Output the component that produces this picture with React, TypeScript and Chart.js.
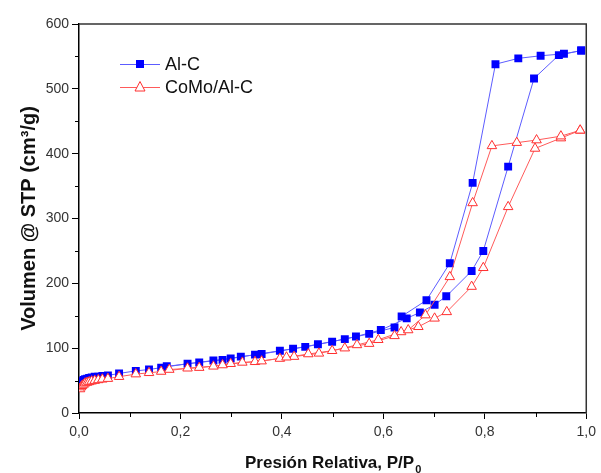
import React, { useEffect, useRef } from "react";
import { Chart, registerables } from "chart.js";

Chart.register(...registerables);

// Al-C (adsorption then desorption)
const alcAdsP = [0.002, 0.004, 0.006, 0.009, 0.012, 0.016, 0.020, 0.025, 0.031, 0.038, 0.046, 0.057, 0.079, 0.112, 0.138, 0.162, 0.214, 0.265, 0.299, 0.347, 0.396, 0.446, 0.499, 0.546, 0.595, 0.646, 0.672, 0.701, 0.724, 0.774, 0.797, 0.846, 0.897, 0.946, 0.990];
const alcAdsV = [44, 47, 49, 51, 52, 53, 54, 55, 56, 56, 57, 58, 61, 65, 67, 70, 76, 81, 84, 90, 96, 102, 110, 118, 128, 146, 155, 167, 180, 219, 250, 380, 516, 552, 559];
const alcDesP = [0.990, 0.956, 0.910, 0.866, 0.821, 0.776, 0.731, 0.685, 0.636, 0.622, 0.572, 0.524, 0.471, 0.422, 0.360, 0.319, 0.283, 0.237, 0.173];
const alcDesV = [559, 554, 551, 547, 538, 355, 231, 174, 149, 132, 122, 114, 106, 99, 91, 87, 82, 78, 72];

// CoMo/Al-C (adsorption then desorption)
const comoAdsP = [0.002, 0.004, 0.006, 0.009, 0.012, 0.016, 0.020, 0.025, 0.031, 0.038, 0.046, 0.057, 0.079, 0.112, 0.138, 0.162, 0.214, 0.265, 0.299, 0.347, 0.396, 0.452, 0.499, 0.548, 0.590, 0.635, 0.669, 0.701, 0.725, 0.774, 0.797, 0.846, 0.899, 0.950, 0.988];
const comoAdsV = [37, 40, 42, 44, 46, 47, 48, 49, 50, 51, 52, 53, 56, 60, 62, 64, 69, 72, 76, 79, 84, 91, 96, 105, 113, 125, 133, 146, 156, 195, 224, 318, 408, 424, 436];
const comoDesP = [0.988, 0.950, 0.902, 0.863, 0.814, 0.776, 0.731, 0.683, 0.649, 0.622, 0.572, 0.524, 0.473, 0.424, 0.409, 0.360, 0.322, 0.283, 0.237, 0.178];
const comoDesV = [436, 427, 421, 417, 412, 324, 210, 151, 128, 119, 107, 100, 92, 87, 86, 80, 78, 74, 70, 67];

const seriesNames = ["Al-C", "CoMo/Al-C"];
const xMinorTicks = [0.1, 0.3, 0.5, 0.7, 0.9];
const yMinorTicks = [50, 150, 250, 350, 450, 550];

const FONT = "Arial, 'Liberation Sans', sans-serif";
const BLUE_LINE = "#5c5cff";
const BLUE = "#0000ff";
const RED_LINE = "#ff5a5a";
const RED = "#ff3030";

function toPoints(ps: number[], vs: number[]) {
  return ps.map((p, i) => ({ x: p, y: vs[i] }));
}

const decorPlugin = {
  id: "decor",
  afterDraw(chart: any) {
    const { ctx, chartArea: a, scales } = chart;
    const xs = scales.x;
    const ys = scales.y;
    ctx.save();
    // frame top & right
    ctx.strokeStyle = "#333";
    ctx.lineWidth = 1.5;
    ctx.beginPath();
    ctx.moveTo(a.left, a.top);
    ctx.lineTo(a.right, a.top);
    ctx.lineTo(a.right, a.bottom);
    ctx.stroke();
    // minor ticks
    ctx.strokeStyle = "#000";
    ctx.lineWidth = 1;
    ctx.beginPath();
    xMinorTicks.forEach((v) => {
      const px = Math.round(xs.getPixelForValue(v)) + 0.5;
      ctx.moveTo(px, a.bottom);
      ctx.lineTo(px, a.bottom + 4);
    });
    yMinorTicks.forEach((v) => {
      const py = Math.round(ys.getPixelForValue(v)) + 0.5;
      ctx.moveTo(a.left - 4, py);
      ctx.lineTo(a.left, py);
    });
    ctx.stroke();

    // legend
    const items = [
      { name: seriesNames[0], line: BLUE_LINE, y: 64, kind: "rect" },
      { name: seriesNames[1], line: RED_LINE, y: 87, kind: "tri" },
    ];
    items.forEach((it) => {
      ctx.strokeStyle = it.line;
      ctx.lineWidth = 1;
      ctx.beginPath();
      ctx.moveTo(120, it.y + 0.5);
      ctx.lineTo(160, it.y + 0.5);
      ctx.stroke();
      if (it.kind === "rect") {
        ctx.fillStyle = BLUE;
        ctx.fillRect(136, it.y - 4, 8, 8);
      } else {
        ctx.fillStyle = "#fff";
        ctx.strokeStyle = RED;
        ctx.beginPath();
        ctx.moveTo(140, it.y - 5.5);
        ctx.lineTo(145, it.y + 4);
        ctx.lineTo(135, it.y + 4);
        ctx.closePath();
        ctx.fill();
        ctx.stroke();
      }
      ctx.fillStyle = "#111";
      ctx.font = `18px ${FONT}`;
      ctx.textAlign = "left";
      ctx.textBaseline = "middle";
      ctx.fillText(it.name, 165, it.y + 1);
    });

    // x title with subscript
    ctx.fillStyle = "#111";
    ctx.textBaseline = "alphabetic";
    ctx.textAlign = "left";
    const main = "Presión Relativa, P/P";
    ctx.font = `bold 17px ${FONT}`;
    const w1 = ctx.measureText(main).width;
    ctx.font = `bold 11px ${FONT}`;
    const w2 = ctx.measureText("0").width;
    const cx = (a.left + a.right) / 2;
    const sx = cx - (w1 + w2) / 2;
    ctx.font = `bold 17px ${FONT}`;
    ctx.fillText(main, sx, 468);
    ctx.font = `bold 11px ${FONT}`;
    ctx.fillText("0", sx + w1 + 1, 473);

    // y title
    ctx.save();
    ctx.translate(29, (a.top + a.bottom) / 2);
    ctx.rotate(-Math.PI / 2);
    ctx.textAlign = "center";
    ctx.textBaseline = "middle";
    ctx.font = `bold 20px ${FONT}`;
    ctx.fillText("Volumen @ STP (cm³/g)", 0, 0);
    ctx.restore();

    ctx.restore();
  },
};

export default function App() {
  const ref = useRef<HTMLCanvasElement | null>(null);
  useEffect(() => {
    if (!ref.current) return;
    const chart = new Chart(ref.current, {
      type: "scatter",
      data: {
        datasets: [
          {
            label: seriesNames[0],
            data: [...toPoints(alcAdsP, alcAdsV), ...toPoints(alcDesP, alcDesV)],
            showLine: true,
            borderColor: BLUE_LINE,
            borderWidth: 1,
            pointStyle: "rect",
            pointRadius: 5.6,
            pointBackgroundColor: BLUE,
            pointBorderColor: BLUE,
            pointBorderWidth: 0,
            order: 1,
          },
          {
            label: seriesNames[1],
            data: [...toPoints(comoAdsP, comoAdsV), ...toPoints(comoDesP, comoDesV)],
            showLine: true,
            borderColor: RED_LINE,
            borderWidth: 1,
            pointStyle: "triangle",
            pointRadius: 5.5,
            pointBackgroundColor: "#ffffff",
            pointBorderColor: RED,
            pointBorderWidth: 1,
            order: 0,
          },
        ],
      },
      options: {
        animation: false,
        responsive: false,
        layout: { padding: { top: 24, right: 11, left: 0, bottom: 0 } },
        plugins: { legend: { display: false }, tooltip: { enabled: false } },
        scales: {
          x: {
            type: "linear",
            min: 0,
            max: 1,
            grid: { display: true, drawOnChartArea: false, drawTicks: true, tickLength: 6, color: "#000" },
            border: { display: true, color: "#000", width: 1.5 },
            ticks: {
              stepSize: 0.2,
              padding: 5,
              color: "#333",
              font: { family: FONT, size: 14 },
              maxRotation: 0,
              callback: (v: any) => Number(v).toFixed(1).replace(".", ","),
            },
            afterFit: (s: any) => {
              s.height = 60;
            },
          },
          y: {
            type: "linear",
            min: 0,
            max: 600,
            grid: { display: true, drawOnChartArea: false, drawTicks: true, tickLength: 7, color: "#000" },
            border: { display: true, color: "#000", width: 1.5 },
            ticks: {
              stepSize: 100,
              padding: 3,
              color: "#333",
              font: { family: FONT, size: 14 },
            },
            afterFit: (s: any) => {
              s.width = 79;
            },
          },
        },
      },
      plugins: [decorPlugin],
    });
    return () => chart.destroy();
  }, []);
  return (
    <div style={{ position: "absolute", left: 0, top: 0, width: 601, height: 473, background: "#fff" }}>
      <canvas ref={ref} width={601} height={473} />
    </div>
  );
}
